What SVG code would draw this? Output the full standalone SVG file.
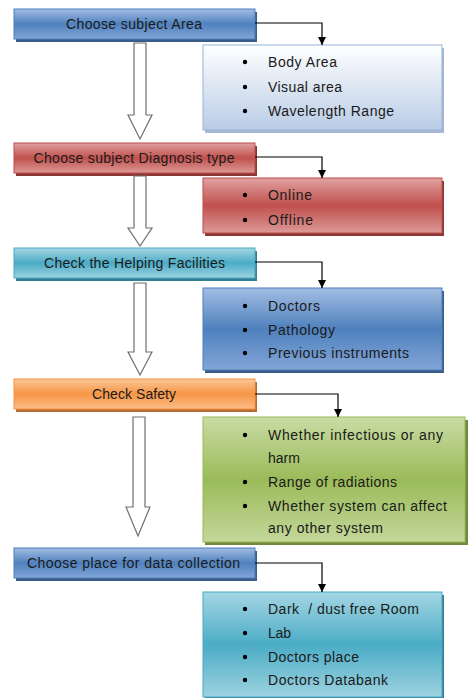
<svg xmlns="http://www.w3.org/2000/svg" width="468" height="698" viewBox="0 0 468 698">
<defs>
<linearGradient id="gBlue" x1="0" y1="0" x2="0" y2="1"><stop offset="0" stop-color="#a3bde3"/><stop offset="0.5" stop-color="#4f81bd"/><stop offset="1" stop-color="#83a5d8"/></linearGradient>
<linearGradient id="gWhite" x1="0" y1="0" x2="0" y2="1"><stop offset="0" stop-color="#ffffff"/><stop offset="1" stop-color="#b9cce6"/></linearGradient>
<linearGradient id="gRed" x1="0" y1="0" x2="0" y2="1"><stop offset="0" stop-color="#e0a2a0"/><stop offset="0.5" stop-color="#c0504d"/><stop offset="1" stop-color="#dc9997"/></linearGradient>
<linearGradient id="gTeal" x1="0" y1="0" x2="0" y2="1"><stop offset="0" stop-color="#a5d6e3"/><stop offset="0.5" stop-color="#4bacc6"/><stop offset="1" stop-color="#9dd2e0"/></linearGradient>
<linearGradient id="gOrange" x1="0" y1="0" x2="0" y2="1"><stop offset="0" stop-color="#fbc697"/><stop offset="0.5" stop-color="#f79646"/><stop offset="1" stop-color="#fbbd89"/></linearGradient>
<linearGradient id="gGreen" x1="0" y1="0" x2="0" y2="1"><stop offset="0" stop-color="#c9dca4"/><stop offset="0.5" stop-color="#9bbb59"/><stop offset="1" stop-color="#c3d79a"/></linearGradient>
<marker id="ah" viewBox="0 0 10 10" refX="10" refY="5" markerWidth="8" markerHeight="8" markerUnits="userSpaceOnUse" orient="auto"><path d="M0,0 L10,5 L0,10 Z" fill="#000"/></marker>
</defs>
<style>
text{font-family:"Liberation Sans",Arial,sans-serif;font-size:14px;fill:#1a1a1a}
.hd{text-anchor:middle}
.conn{fill:none;stroke:#000;stroke-width:1.2}
.big{fill:#fff;stroke:#6e6e6e;stroke-width:1.2}
.dot{fill:#000}
</style>
<rect width="468" height="698" fill="#fff"/>

<g id="step1">
<rect x="16" y="12" width="241" height="30" fill="#385d8a"/>
<rect x="14" y="9" width="241" height="30" fill="url(#gBlue)" stroke="#4a7ebb" stroke-width="1"/>
<text class="hd" x="134" y="29" textLength="136" lengthAdjust="spacing">Choose subject Area</text>
</g>
<g id="detail1">
<rect x="205" y="48" width="239" height="85" fill="#a7b9d1"/>
<rect x="203" y="45" width="239" height="85" fill="url(#gWhite)" stroke="#95b3d7" stroke-width="1"/>
<circle class="dot" cx="245" cy="62" r="2.2"/><text x="268" y="67" textLength="69" lengthAdjust="spacing">Body Area</text>
<circle class="dot" cx="245" cy="87" r="2.2"/><text x="268" y="92" textLength="74" lengthAdjust="spacing">Visual area</text>
<circle class="dot" cx="245" cy="111" r="2.2"/><text x="268" y="116" textLength="126" lengthAdjust="spacing">Wavelength Range</text>
</g>

<g id="step2">
<rect x="16" y="146" width="241" height="30" fill="#8c3836"/>
<rect x="14" y="143" width="241" height="30" fill="url(#gRed)" stroke="#be4b48" stroke-width="1"/>
<text class="hd" x="134" y="163" textLength="201" lengthAdjust="spacing">Choose subject Diagnosis type</text>
</g>
<g id="detail2">
<rect x="205" y="181" width="239" height="55" fill="#8c3836"/>
<rect x="203" y="178" width="239" height="55" fill="url(#gRed)" stroke="#be4b48" stroke-width="1"/>
<circle class="dot" cx="245" cy="195" r="2.2"/><text x="268" y="200" textLength="44" lengthAdjust="spacing">Online</text>
<circle class="dot" cx="245" cy="220" r="2.2"/><text x="268" y="225" textLength="45" lengthAdjust="spacing">Offline</text>
</g>

<g id="step3">
<rect x="16" y="251" width="241" height="30" fill="#357d91"/>
<rect x="14" y="248" width="241" height="30" fill="url(#gTeal)" stroke="#46aac5" stroke-width="1"/>
<text class="hd" x="134.5" y="268" textLength="181" lengthAdjust="spacing">Check the Helping Facilities</text>
</g>
<g id="detail3">
<rect x="205" y="291" width="239" height="82" fill="#385d8a"/>
<rect x="203" y="288" width="239" height="82" fill="url(#gBlue)" stroke="#4a7ebb" stroke-width="1"/>
<circle class="dot" cx="245" cy="306" r="2.2"/><text x="268" y="311" textLength="52" lengthAdjust="spacing">Doctors</text>
<circle class="dot" cx="245" cy="330" r="2.2"/><text x="268" y="335" textLength="67" lengthAdjust="spacing">Pathology</text>
<circle class="dot" cx="245" cy="353" r="2.2"/><text x="268" y="358" textLength="141" lengthAdjust="spacing">Previous instruments</text>
</g>

<g id="step4">
<rect x="16" y="382" width="241" height="30" fill="#b66d31"/>
<rect x="14" y="379" width="241" height="30" fill="url(#gOrange)" stroke="#f69240" stroke-width="1"/>
<text class="hd" x="134" y="399" textLength="84" lengthAdjust="spacing">Check Safety</text>
</g>
<g id="detail4">
<rect x="205" y="420" width="263" height="125" fill="#71893f"/>
<rect x="203" y="417" width="262" height="125" fill="url(#gGreen)" stroke="#98b954" stroke-width="1"/>
<circle class="dot" cx="245" cy="435" r="2.2"/><text x="268" y="440" textLength="175" lengthAdjust="spacing">Whether infectious or any</text>
<text x="268" y="463">harm</text>
<circle class="dot" cx="245" cy="482" r="2.2"/><text x="268" y="487" textLength="129" lengthAdjust="spacing">Range of radiations</text>
<circle class="dot" cx="245" cy="506" r="2.2"/><text x="268" y="511" textLength="179" lengthAdjust="spacing">Whether system can affect</text>
<text x="268" y="533" textLength="115" lengthAdjust="spacing">any other system</text>
</g>

<g id="step5">
<rect x="16" y="551" width="241" height="30" fill="#385d8a"/>
<rect x="14" y="548" width="241" height="30" fill="url(#gBlue)" stroke="#4a7ebb" stroke-width="1"/>
<text class="hd" x="133.5" y="568" textLength="213" lengthAdjust="spacing">Choose place for data collection</text>
</g>
<g id="detail5">
<rect x="205" y="595" width="239" height="105" fill="#357d91"/>
<rect x="203" y="592" width="239" height="105" fill="url(#gTeal)" stroke="#46aac5" stroke-width="1"/>
<circle class="dot" cx="245" cy="609" r="2.2"/><text x="268" y="614" textLength="151" lengthAdjust="spacing" xml:space="preserve">Dark  / dust free Room</text>
<circle class="dot" cx="245" cy="633" r="2.2"/><text x="268" y="638" textLength="23" lengthAdjust="spacing">Lab</text>
<circle class="dot" cx="245" cy="657" r="2.2"/><text x="268" y="662" textLength="91" lengthAdjust="spacing">Doctors place</text>
<circle class="dot" cx="245" cy="680" r="2.2"/><text x="268" y="685" textLength="120" lengthAdjust="spacing">Doctors Databank</text>
</g>

<g id="connectors">
<path class="conn" d="M255,23 H322 V45" marker-end="url(#ah)"/>
<path class="conn" d="M255,157 H322 V178" marker-end="url(#ah)"/>
<path class="conn" d="M255,262 H322 V288" marker-end="url(#ah)"/>
<path class="conn" d="M255,394 H338 V417" marker-end="url(#ah)"/>
<path class="conn" d="M255,563 H322 V592" marker-end="url(#ah)"/>
<path class="big" d="M134,43 H146 V115 H152 L140,139 L128,115 H134 Z"/>
<path class="big" d="M134,176 H146 V228 H152 L140,246 L128,228 H134 Z"/>
<path class="big" d="M134,283 H146 V352 H152 L140,375 L128,352 H134 Z"/>
<path class="big" d="M133,417 H145 V507 H150 L138,536 L126,507 H133 Z"/>
</g>
</svg>
